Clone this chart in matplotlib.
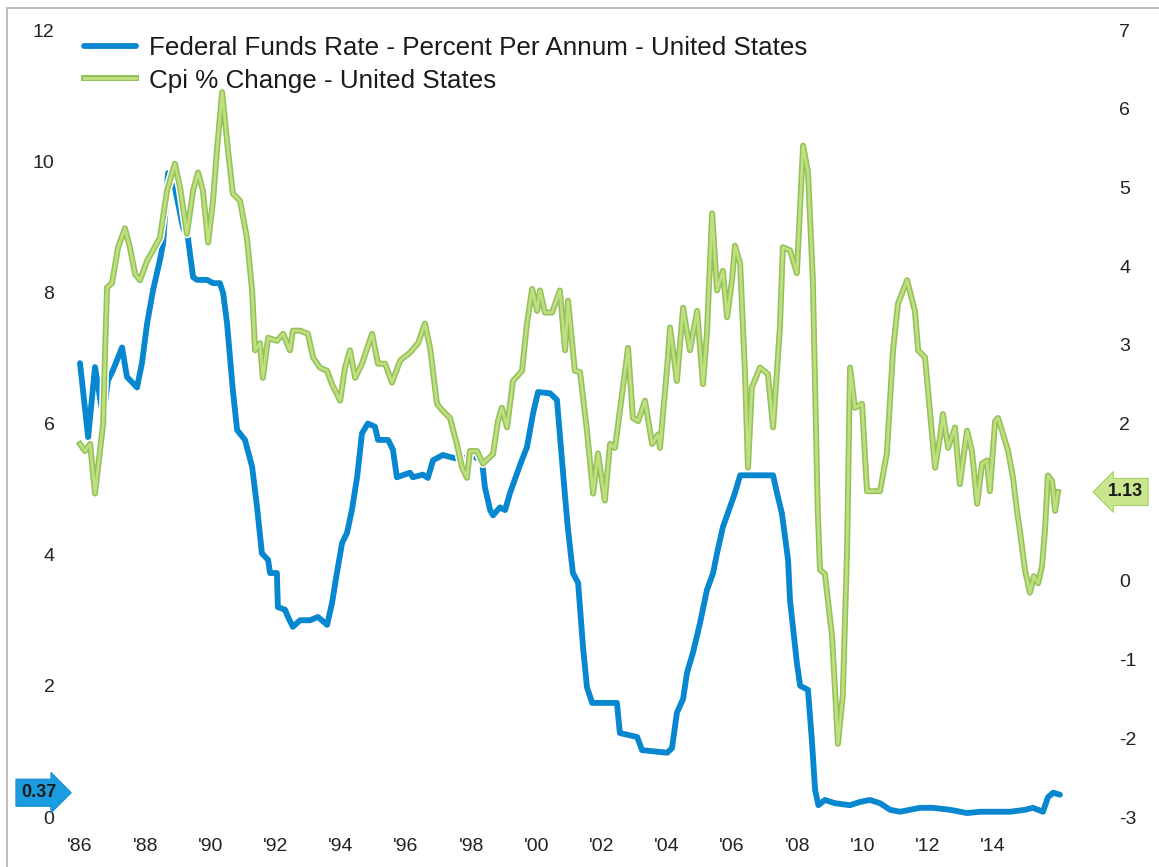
import matplotlib
matplotlib.use("Agg")
import matplotlib.pyplot as plt
import matplotlib.patheffects as pe
import matplotlib.transforms as mtransforms
from matplotlib.patches import Rectangle

plt.rcParams['font.family'] = ['Liberation Sans', 'DejaVu Sans']

# ---------------- data ----------------
ffr_years = [1986.00, 1986.25, 1986.46, 1986.71, 1986.86, 1987.01, 1987.29, 1987.44, 1987.75, 1987.90,
             1988.06, 1988.24, 1988.45, 1988.55, 1988.70, 1988.91, 1989.16, 1989.31, 1989.47, 1989.59,
             1989.90, 1990.08, 1990.29, 1990.39, 1990.51, 1990.60, 1990.69, 1990.82, 1991.06, 1991.28,
             1991.43, 1991.58, 1991.77, 1991.83, 1992.04, 1992.07, 1992.29, 1992.38, 1992.53, 1992.75,
             1993.06, 1993.30, 1993.58, 1993.73, 1993.88, 1994.04, 1994.19, 1994.34, 1994.50, 1994.65,
             1994.83, 1995.05, 1995.14, 1995.45, 1995.60, 1995.72, 1996.12, 1996.21, 1996.52, 1996.67,
             1996.83, 1997.13, 1997.50, 1997.75, 1998.06, 1998.33, 1998.42, 1998.58, 1998.67, 1998.88,
             1999.04, 1999.19, 1999.50, 1999.71, 1999.90, 2000.05, 2000.42, 2000.63, 2000.79, 2000.88,
             2000.97, 2001.12, 2001.28, 2001.43, 2001.55, 2001.71, 2002.47, 2002.56, 2003.09, 2003.24,
             2004.01, 2004.16, 2004.31, 2004.50, 2004.62, 2004.80, 2005.02, 2005.23, 2005.42, 2005.54,
             2005.72, 2005.94, 2006.09, 2006.25, 2007.26, 2007.38, 2007.53, 2007.72, 2007.78, 2007.99,
             2008.09, 2008.33, 2008.45, 2008.55, 2008.65, 2008.85, 2009.16, 2009.62, 2009.93, 2010.23,
             2010.54, 2010.85, 2011.15, 2011.46, 2011.77, 2012.17, 2012.69, 2013.21, 2013.61, 2014.07,
             2014.53, 2014.99, 2015.23, 2015.54, 2015.69, 2015.85, 2016.06]
ffr_values = [6.92, 5.79, 6.86, 6.10, 6.66, 6.81, 7.16, 6.71, 6.55, 6.92,
              7.53, 8.03, 8.49, 8.75, 9.82, 9.60, 8.99, 8.83, 8.23, 8.19,
              8.19, 8.14, 8.14, 7.99, 7.53, 7.01, 6.50, 5.90, 5.75, 5.34,
              4.73, 4.02, 3.92, 3.72, 3.72, 3.20, 3.16, 3.05, 2.90, 3.00,
              3.00, 3.05, 2.93, 3.26, 3.72, 4.18, 4.33, 4.68, 5.18, 5.85,
              6.00, 5.95, 5.75, 5.75, 5.60, 5.18, 5.25, 5.18, 5.22, 5.17,
              5.44, 5.52, 5.47, 5.47, 5.50, 5.44, 5.03, 4.68, 4.60, 4.72,
              4.68, 4.94, 5.37, 5.64, 6.16, 6.48, 6.46, 6.36, 5.40, 4.88,
              4.38, 3.72, 3.57, 2.59, 1.98, 1.74, 1.74, 1.28, 1.22, 1.02,
              0.98, 1.05, 1.59, 1.80, 2.20, 2.50, 2.96, 3.46, 3.72, 4.02,
              4.42, 4.73, 4.94, 5.21, 5.21, 4.94, 4.63, 3.92, 3.30, 2.35,
              2.00, 1.94, 1.17, 0.41, 0.18, 0.26, 0.21, 0.18, 0.23, 0.26,
              0.21, 0.11, 0.08, 0.11, 0.14, 0.14, 0.11, 0.06, 0.08, 0.08,
              0.08, 0.11, 0.14, 0.08, 0.30, 0.37, 0.34]

cpi_years = [1986.00, 1986.15, 1986.31, 1986.46, 1986.61, 1986.71, 1986.77, 1986.83, 1986.98, 1987.17,
             1987.38, 1987.53, 1987.69, 1987.84, 1988.06, 1988.24, 1988.45, 1988.67, 1988.91, 1989.07,
             1989.28, 1989.47, 1989.62, 1989.77, 1989.93, 1990.08, 1990.20, 1990.36, 1990.54, 1990.69,
             1990.91, 1991.12, 1991.28, 1991.37, 1991.52, 1991.61, 1991.77, 1992.04, 1992.23, 1992.44,
             1992.53, 1992.75, 1992.99, 1993.15, 1993.36, 1993.58, 1993.73, 1993.98, 1994.13, 1994.28,
             1994.44, 1994.65, 1994.96, 1995.14, 1995.36, 1995.57, 1995.82, 1996.12, 1996.37, 1996.58,
             1996.74, 1996.95, 1997.13, 1997.35, 1997.56, 1997.72, 1997.87, 1997.96, 1998.18, 1998.36,
             1998.67, 1998.82, 1998.94, 1999.10, 1999.28, 1999.56, 1999.71, 1999.87, 2000.02, 2000.11,
             2000.26, 2000.48, 2000.72, 2000.88, 2000.97, 2001.18, 2001.34, 2001.55, 2001.74, 2001.89,
             2002.10, 2002.26, 2002.41, 2002.63, 2002.81, 2002.96, 2003.12, 2003.33, 2003.55, 2003.73,
             2003.79, 2004.01, 2004.10, 2004.31, 2004.50, 2004.71, 2004.93, 2005.11, 2005.23, 2005.39,
             2005.54, 2005.72, 2005.85, 2006.00, 2006.09, 2006.25, 2006.40, 2006.49, 2006.61, 2006.86,
             2007.10, 2007.26, 2007.47, 2007.56, 2007.78, 2007.99, 2008.09, 2008.18, 2008.33, 2008.48,
             2008.63, 2008.70, 2008.85, 2009.07, 2009.25, 2009.40, 2009.53, 2009.62, 2009.77, 2009.99,
             2010.14, 2010.54, 2010.75, 2010.94, 2011.09, 2011.37, 2011.61, 2011.71, 2011.92, 2012.07,
             2012.23, 2012.38, 2012.47, 2012.63, 2012.84, 2012.99, 2013.21, 2013.36, 2013.52, 2013.67,
             2013.82, 2013.91, 2014.07, 2014.16, 2014.31, 2014.47, 2014.62, 2014.74, 2014.83, 2014.99,
             2015.14, 2015.26, 2015.39, 2015.51, 2015.60, 2015.69, 2015.82, 2015.91, 2016.00]
cpi_values = [1.74, 1.65, 1.74, 1.11, 1.65, 2.00, 2.93, 3.73, 3.78, 4.24,
              4.48, 4.24, 3.90, 3.82, 4.07, 4.20, 4.36, 4.96, 5.30, 5.00,
              4.41, 4.96, 5.19, 4.96, 4.30, 4.83, 5.47, 6.21, 5.47, 4.92,
              4.83, 4.36, 3.69, 2.93, 3.02, 2.58, 3.09, 3.05, 3.14, 2.93,
              3.18, 3.18, 3.14, 2.84, 2.71, 2.67, 2.50, 2.29, 2.71, 2.93,
              2.58, 2.76, 3.14, 2.76, 2.76, 2.52, 2.80, 2.90, 3.02, 3.27,
              2.96, 2.25, 2.16, 2.07, 1.74, 1.44, 1.31, 1.65, 1.65, 1.49,
              1.61, 2.03, 2.20, 1.95, 2.54, 2.67, 3.27, 3.71, 3.43, 3.69,
              3.41, 3.41, 3.69, 2.93, 3.56, 2.67, 2.65, 1.91, 1.11, 1.62,
              1.02, 1.74, 1.69, 2.38, 2.96, 2.07, 2.03, 2.29, 1.74, 1.86,
              1.69, 2.71, 3.22, 2.54, 3.47, 2.93, 3.43, 2.50, 3.14, 4.67,
              3.69, 3.94, 3.35, 3.82, 4.26, 4.03, 2.63, 1.44, 2.46, 2.71,
              2.63, 1.95, 3.22, 4.24, 4.20, 3.91, 4.75, 5.53, 5.20, 3.82,
              0.89, 0.14, 0.09, -0.71, -2.07, -1.45, 0.40, 2.71, 2.20, 2.25,
              1.14, 1.14, 1.62, 2.93, 3.52, 3.82, 3.43, 2.93, 2.84, 2.16,
              1.44, 1.82, 2.12, 1.69, 1.95, 1.23, 1.91, 1.65, 0.98, 1.49,
              1.53, 1.14, 2.03, 2.07, 1.87, 1.65, 1.31, 0.89, 0.64, 0.13,
              -0.15, 0.06, -0.03, 0.19, 0.64, 1.34, 1.27, 0.89, 1.13]

x_tick_years = list(range(1986, 2015, 2))
x_tick_labels = ["'86", "'88", "'90", "'92", "'94", "'96", "'98", "'00",
                 "'02", "'04", "'06", "'08", "'10", "'12", "'14"]
left_ticks = [0, 2, 4, 6, 8, 10, 12]
right_ticks = [-3, -2, -1, 0, 1, 2, 3, 4, 5, 6, 7]
series_names = ["Federal Funds Rate - Percent Per Annum - United States",
                "Cpi % Change - United States"]
last_ffr_label = "0.37"
last_cpi_label = "1.13"

# ---------------- figure ----------------
W, H = 1159, 867
fig = plt.figure(figsize=(W / 100, H / 100), dpi=100)
fig.patch.set_facecolor('white')

# light frame around chart
fig.patches.append(Rectangle((7 / W, -0.01), 1.2, (H - 8) / H + 0.01, transform=fig.transFigure,
                             fill=False, edgecolor='#b0b0b0', linewidth=1.2))

ax_left_px, ax_right_px = 60, 1100
ax_top_px, ax_bot_px = 30, 817
ax = fig.add_axes([ax_left_px / W, (H - ax_bot_px) / H,
                   (ax_right_px - ax_left_px) / W, (ax_bot_px - ax_top_px) / H])
ax2 = ax.twinx()

px_per_year = 32.6
x0 = 1986 + (ax_left_px - 80) / px_per_year
x1 = 1986 + (ax_right_px - 80) / px_per_year

blue = '#0787d0'
ln1, = ax.plot(ffr_years, ffr_values, color=blue, lw=4.2, solid_joinstyle='round',
               solid_capstyle='round', zorder=2)
ax.set_xlim(x0, x1)
ax.set_ylim(0, 12)

green_light = '#bfe07f'
green_dark = '#96c05c'
g_effects = [pe.Stroke(linewidth=6.5, foreground='white'),
             pe.Stroke(linewidth=4.3, foreground=green_dark),
             pe.Normal()]
ln2, = ax2.plot(cpi_years, cpi_values, color=green_light, lw=2.0, solid_joinstyle='round',
                path_effects=g_effects, zorder=3)
ax2.set_ylim(-3, 7)
ax.set_zorder(ax2.get_zorder() - 1)
ax.patch.set_visible(False)
ax2.patch.set_visible(False)

for a in (ax, ax2):
    for s in a.spines.values():
        s.set_visible(False)

tick_color = '#222222'
tick_size = 14
ax.set_xticks(x_tick_years)
ax.set_xticklabels(x_tick_labels)
ax.set_yticks(left_ticks)
ax.set_yticklabels([str(v) for v in left_ticks])
ax2.set_yticks(right_ticks)
ax2.set_yticklabels([str(v) for v in right_ticks])
ax.tick_params(axis='x', length=0, pad=15, labelsize=tick_size, labelcolor=tick_color)
ax.tick_params(axis='y', length=0, pad=4, labelsize=tick_size, labelcolor=tick_color)
ax2.tick_params(axis='y', length=0, pad=14, labelsize=tick_size, labelcolor=tick_color)
for v, t in zip(right_ticks, ax2.get_yticklabels()):
    t.set_horizontalalignment('left')
    if v == 1:  # hidden behind the last-value flag in the original
        t.set_visible(False)

# legend
leg = ax2.legend([ln1, ln2], series_names, loc='upper left',
                 bbox_to_anchor=(84 / W, 1 - 36 / H), bbox_transform=fig.transFigure,
                 frameon=False, fontsize=18.7, handlelength=2.0, handletextpad=0.5,
                 labelspacing=0.33, borderpad=0, borderaxespad=0)
for t in leg.get_texts():
    t.set_color('#1a1a1a')

# value flags
tr_left = mtransforms.blended_transform_factory(fig.transFigure, ax.transData)
ax.text(21 / W, ffr_values[-2], last_ffr_label, transform=tr_left, ha='left', va='center',
        fontsize=13, fontweight='bold', color='#1a1a1a', zorder=5,
        bbox=dict(boxstyle='rarrow,pad=0.28', fc='#1b9be0', ec='#1590d0', lw=0.8))
tr_right = mtransforms.blended_transform_factory(fig.transFigure, ax2.transData)
ax2.text(1108 / W, cpi_values[-1], last_cpi_label, transform=tr_right, ha='left', va='center',
         fontsize=13, fontweight='bold', color='#1a1a1a', zorder=5,
         bbox=dict(boxstyle='larrow,pad=0.28', fc='#c9e68e', ec='#a9cf6a', lw=0.8))

fig.savefig('out.png', dpi=100, facecolor='white')
